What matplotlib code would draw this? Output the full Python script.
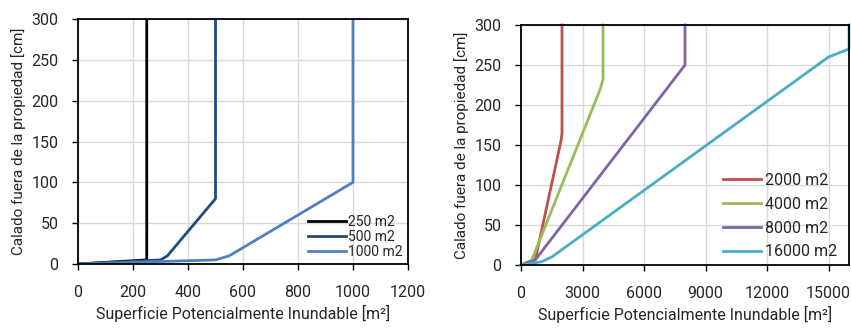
import numpy as np
import matplotlib
matplotlib.use("Agg")
import matplotlib.pyplot as plt

plt.rcParams['font.family'] = ['Roboto', 'DejaVu Sans']

# left panel: small properties
x_250 = [0, 250, 250]
y_250 = [0, 5, 300]
x_500 = [0, 300, 325, 500, 500]
y_500 = [0, 5, 10, 80, 300]
x_1000 = [0, 500, 550, 1000, 1000]
y_1000 = [0, 5, 10, 100, 300]
left_labels = ['250 m2', '500 m2', '1000 m2']
left_colors = ['#000000', '#1f4a7e', '#4f81bd']

# right panel: large properties
x_2000 = [0, 700, 1950, 2000, 2000]
y_2000 = [0, 7, 155, 165, 300]
x_4000 = [0, 520, 3870, 4000, 4000]
y_4000 = [0, 6, 220, 232, 300]
x_8000 = [0, 685, 8000, 8000]
y_8000 = [0, 6, 250, 300]
x_16000 = [0, 1000, 1500, 15000, 16000, 16000]
y_16000 = [0, 4, 10, 260, 270, 300]
right_labels = ['2000 m2', '4000 m2', '8000 m2', '16000 m2']
right_colors = ['#c0504d', '#9bbb59', '#8064a2', '#4bacc6']

text_col = '#262626'
xlabel = 'Superficie Potencialmente Inundable [m²]'
ylabel = 'Calado fuera de la propiedad [cm]'

fig = plt.figure(figsize=(8.51, 3.28), dpi=100)
ax1 = fig.add_axes([78 / 851, 64 / 328, 330 / 851, 245 / 328])
ax2 = fig.add_axes([521 / 851, 63 / 328, 328 / 851, 240 / 328])


def style_axis(ax):
    ax.grid(True, color='#d9d9d9', linewidth=1.0)
    ax.set_axisbelow(True)
    for s in ax.spines.values():
        s.set_color('black')
        s.set_linewidth(1.3)
    ax.tick_params(direction='out', length=4, width=1.0, color='black',
                   labelsize=11.5, labelcolor=text_col)
    ax.tick_params(axis='x', pad=11)
    ax.tick_params(axis='y', pad=10)
    ax.set_xlabel(xlabel, fontsize=11.5, color=text_col, labelpad=4)
    ax.set_ylabel(ylabel, fontsize=11, color=text_col, labelpad=4)


lw = 2.0
for xs, ys, lab, c in zip([x_250, x_500, x_1000], [y_250, y_500, y_1000], left_labels, left_colors):
    ax1.plot(xs, ys, color=c, lw=lw, label=lab, solid_joinstyle='round')
ax1.set_xlim(0, 1200)
ax1.set_ylim(0, 300)
ax1.set_xticks(np.arange(0, 1201, 200))
ax1.set_yticks(np.arange(0, 301, 50))
style_axis(ax1)
leg1 = ax1.legend(loc='upper left', bbox_to_anchor=(308 / 851, (328 - 215) / 328),
                  bbox_transform=fig.transFigure, frameon=False, fontsize=10,
                  handlelength=2.7, handletextpad=0.2, labelspacing=0.08,
                  borderpad=0, borderaxespad=0)
for t in leg1.get_texts():
    t.set_color(text_col)

for xs, ys, lab, c in zip([x_2000, x_4000, x_8000, x_16000], [y_2000, y_4000, y_8000, y_16000],
                          right_labels, right_colors):
    ax2.plot(xs, ys, color=c, lw=lw, label=lab, solid_joinstyle='round', clip_on=False)
ax2.set_xlim(0, 16000)
ax2.set_ylim(0, 300)
ax2.set_xticks(np.arange(0, 15001, 3000))
ax2.set_yticks(np.arange(0, 301, 50))
style_axis(ax2)
leg2 = ax2.legend(loc='upper left', bbox_to_anchor=(723 / 851, (328 - 173) / 328),
                  bbox_transform=fig.transFigure, frameon=False, fontsize=11.5,
                  handlelength=2.4, handletextpad=0.2, labelspacing=0.55,
                  borderpad=0, borderaxespad=0)
for t in leg2.get_texts():
    t.set_color(text_col)

fig.savefig('out.png', dpi=100)
